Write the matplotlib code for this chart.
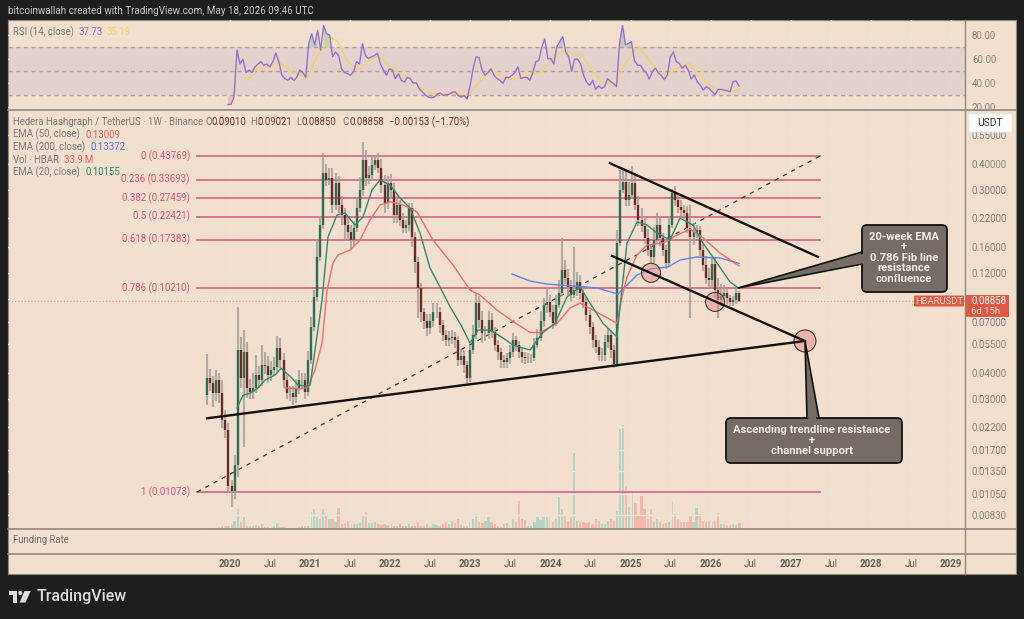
import numpy as np
import matplotlib
matplotlib.use("Agg")
import matplotlib.pyplot as plt
from matplotlib.patches import Rectangle, FancyBboxPatch, Polygon, Circle

plt.rcParams['font.family'] = ['Roboto', 'DejaVu Sans']

# -----------------------------------
# Data
# -----------------------------------

closes = [
    .0377, .0356, .0320, .0369, .0320, .0237, .0212, .0115, .0108, .0144,
    .0514, .0377, .0503, .0338, .0324, .0338, .0390, .0369, .0435, .0430,
    .0390, .0412, .0426, .0525, .0460, .0369, .0320, .0320, .0306, .0338,
    .0369, .0369, .0324, .0460, .0664, .0924, .1437, .2043, .3629, .3358,
    .3430, .2548, .3250, .2548, .2282, .2043, .1893, .1731, .1980, .2464,
    .3007, .4188, .3430, .3549, .3963, .4188, .3840, .3178, .2600, .3250,
    .3007, .2282, .2548, .2159, .1980, .2043, .2464, .1790, .1360, .1020,
    .0782, .0705, .0653, .0705, .0782, .0782, .0677, .0606, .0574, .0587,
    .0594, .0574, .0460, .0481, .0435, .0377, .0514, .0606, .0863, .0716,
    .0618, .0618, .0716, .0624, .0543, .0503, .0460, .0450, .0470, .0503,
    .0574, .0543, .0503, .0475, .0470, .0470, .0470, .0543, .0587, .0705,
    .0845, .0874, .0782, .0690, .0845, .0963, .1243, .1138, .1030, .0943,
    .0997, .1090, .0963, .0874, .0756, .0664, .0574, .0530, .0486, .0486,
    .0562, .0606, .0514, .0440, .1674, .3007, .3287, .2693, .2846, .3250,
    .2548, .2159, .2020, .1770, .1550, .1436, .1731, .2043, .1770, .1550,
    .1343, .2043, .2910, .2693, .2495, .2411, .2333, .1980, .1790, .1893,
    .1933, .1550, .1314, .1138, .1113, .1328, .0997, .0893, .0933, .0963,
    .0912, .0874, .0893, .0963, .08858,
]
first_open = .0312

# wick length above / below the candle body, in percent
wick_up = [
    30, 10, 8, 12, 8, 15, 12, 8, 6, 12,
    60, 15, 27, 12, 10, 18, 25, 10, 25, 15,
    12, 10, 12, 14, 12, 8, 6, 8, 8, 10,
    12, 8, 8, 10, 12, 8, 20, 10, 25, 10,
    12, 12, 12, 8, 10, 8, 10, 8, 8, 10,
    15, 22, 12, 10, 10, 4, 8, 10, 12, 8,
    10, 8, 10, 6, 8, 6, 6, 6, 6, 6,
    6, 5, 8, 8, 10, 10, 6, 6, 6, 8,
    8, 6, 5, 8, 6, 5, 6, 12, 12, 8,
    10, 8, 10, 8, 6, 6, 5, 6, 6, 8,
    8, 5, 5, 5, 6, 6, 5, 8, 10, 12,
    8, 16, 8, 8, 12, 15, 42, 12, 10, 8,
    60, 12, 8, 8, 6, 6, 6, 6, 8, 8,
    8, 8, 6, 6, 15, 25, 17, 14, 15, 20,
    12, 10, 14, 12, 10, 6, 15, 14, 8, 6,
    6, 10, 5, 8, 8, 8, 6, 8, 29, 10,
    6, 5, 8, 10, 12, 8, 8, 14, 14, 10,
    6, 4, 5, 8, 2,
]
wick_dn = [
    10, 8, 14, 8, 10, 8, 8, 8, 16, 8,
    12, 10, 53, 10, 8, 8, 5, 8, 6, 8,
    8, 6, 6, 5, 8, 8, 6, 8, 8, 6,
    6, 8, 8, 4, 4, 4, 4, 4, 4, 6,
    5, 8, 5, 8, 10, 15, 8, 10, 6, 4,
    4, 6, 8, 6, 6, 5, 6, 8, 10, 6,
    8, 8, 8, 6, 6, 6, 6, 10, 12, 28,
    10, 8, 8, 6, 6, 6, 8, 6, 6, 6,
    6, 8, 6, 5, 8, 6, 4, 4, 4, 8,
    10, 8, 6, 6, 6, 8, 8, 6, 6, 6,
    5, 6, 6, 6, 6, 5, 5, 3, 3, 3,
    6, 8, 5, 6, 3, 3, 3, 6, 8, 6,
    3, 6, 6, 6, 6, 8, 8, 6, 6, 6,
    6, 6, 8, 4, 3, 3, 3, 6, 6, 4,
    5, 6, 6, 6, 6, 6, 6, 4, 8, 6,
    6, 3, 3, 6, 6, 6, 6, 6, 59, 8,
    6, 6, 6, 6, 8, 8, 8, 18, 6, 6,
    6, 4, 4, 4, 1,
]

# volume in millions HBAR
volumes = [
    6, 6, 6, 6, 10, 15, 19, 19, 23, 47, 113,
    38, 66, 15, 15, 19, 23, 15, 26, 11, 11,
    11, 15, 34, 11, 9, 8, 6, 6, 8, 11,
    15, 15, 19, 94, 113, 66, 56, 113, 75, 56,
    56, 41, 117, 28, 34, 47, 26, 26, 26, 34,
    75, 94, 34, 34, 41, 26, 23, 30, 23, 26,
    19, 19, 26, 19, 19, 26, 15, 19, 38, 19,
    19, 26, 19, 26, 23, 19, 26, 41, 26, 47,
    34, 56, 23, 15, 15, 38, 56, 85, 41, 34,
    47, 66, 38, 26, 15, 11, 26, 34, 23, 56,
    38, 160, 56, 53, 19, 19, 41, 68, 53, 66,
    68, 66, 38, 56, 179, 113, 75, 47, 66, 429,
    47, 38, 38, 34, 38, 26, 56, 47, 26, 26,
    47, 56, 47, 103, 564, 587, 244, 122, 216, 147,
    75, 188, 113, 56, 113, 38, 56, 38, 28, 34,
    38, 160, 85, 56, 41, 38, 38, 75, 38, 117,
    85, 47, 38, 47, 38, 47, 90, 26, 26, 23,
    23, 26, 23, 33.9,
]

ema20_t = [
    2020.087, 2020.162, 2020.250, 2020.350, 2020.437, 2020.562, 2020.637, 2020.774, 2020.849, 2020.961,
    2021.0, 2021.061, 2021.149, 2021.223, 2021.336, 2021.436, 2021.561, 2021.660, 2021.773, 2021.873,
    2021.998, 2022.122, 2022.247, 2022.372, 2022.497, 2022.622, 2022.747, 2022.896, 2022.996, 2023.096,
    2023.246, 2023.408, 2023.533, 2023.745, 2023.908, 2024.057, 2024.207, 2024.370, 2024.494, 2024.657,
    2024.831, 2024.869, 2024.956, 2025.081, 2025.206, 2025.331, 2025.493, 2025.618, 2025.780, 2025.905,
    2026.080, 2026.242, 2026.355,
]
ema20_p = [
    .0271, .0312, .0319, .0338, .0369, .0390, .0420, .0377, .0349, .0345,
    .0349, .0514, .0893, .1790, .2282, .2333, .2043, .2233, .3007, .3358,
    .3178, .2752, .2464, .1870, .1270, .1030, .0830, .0664, .0555, .0641,
    .0641, .0587, .0543, .0514, .0624, .0690, .0924, .1030, .0863, .0690,
    .0594, .0830, .1674, .2112, .2043, .1870, .1731, .2205, .2043, .1674,
    .1343, .1090, .10155,
]

ema50_t = [
    2020.687, 2020.899, 2020.974, 2021.061, 2021.149, 2021.211, 2021.286, 2021.348, 2021.498, 2021.623,
    2021.748, 2021.873, 2021.998, 2022.160, 2022.335, 2022.534, 2022.784, 2022.996, 2023.121, 2023.333,
    2023.533, 2023.745, 2023.870, 2024.082, 2024.245, 2024.370, 2024.532, 2024.831, 2024.894, 2024.956,
    2025.081, 2025.206, 2025.406, 2025.581, 2025.743, 2025.893, 2026.117, 2026.355,
]
ema50_p = [
    .0338, .0335, .0342, .0412, .0555, .0997, .1343, .1467, .1550, .1731,
    .2159, .2548, .2640, .2548, .2360, .1731, .1314, .0997, .0943, .0799,
    .0705, .0624, .0624, .0690, .0817, .0863, .0799, .0690, .0924, .1150,
    .1467, .1638, .1674, .1830, .1950, .1790, .1500, .13009,
]

ema200_t = [2023.521, 2023.745, 2023.958, 2024.282, 2024.582, 2024.844, 2024.956,
            2025.081, 2025.243, 2025.468, 2025.618, 2025.830, 2026.117, 2026.355]
ema200_p = [.1190, .1100, .1065, .1042, .1020, .0953, .1053,
            .1176, .1257, .1285, .1388, .1436, .1420, .13372]

rsi_vals = [
    22.5, 22.5, 28.6, 67.5, 56, 60, 49, 51, 49, 53.6, 56, 58, 55, 56, 53.6, 58, 65, 58, 46.7, 44,
    42.5, 45, 42.5, 45, 51, 49, 45, 73, 81, 72, 84, 67.5, 88, 81, 80, 62, 66, 63, 52, 49,
    48, 46.7, 49.4, 58, 56, 73, 63, 60.5, 62, 63, 65, 56, 51, 46.7, 52, 51, 44, 48, 42.5, 41,
    45, 44, 40, 40.5, 35.5, 33, 30.5, 28.6, 28, 28.6, 31, 32, 30, 30.5, 31, 32.5, 33, 30, 28.6, 30,
    27, 38, 52, 62, 61.4, 51, 46.7, 49, 52, 46.7, 44, 42.5, 40, 45, 44.7,
    46.7, 49, 53.6, 44, 44.7, 45, 42.5, 49, 58, 59, 70, 77, 60.5, 60.5, 56, 70, 74.5, 78.6, 66, 62,
    50, 60, 60, 56, 46.5, 41, 38.3, 42.5, 35, 37.8, 35.8, 37.2, 44, 41.4, 40, 37.2, 73, 88, 72, 73,
    74.5, 59, 55, 55, 51, 48.6, 43.6, 49.8, 52.5, 48.6, 46.4, 43, 47, 62, 66, 58, 56.4, 52.5, 55, 51,
    43.6, 47, 41.4, 38.6, 34.4, 37.2, 35.8, 33, 30.8, 35, 35, 34.4, 33.9, 33, 41.4, 42, 37.7,
]

rsi_ma_t = [
    2020.225, 2020.337, 2020.462, 2020.624, 2020.787, 2020.961, 2021.086, 2021.186, 2021.248, 2021.348,
    2021.461, 2021.598, 2021.748, 2021.848, 2022.035, 2022.222, 2022.459, 2022.584, 2022.747, 2022.971,
    2023.096, 2023.271, 2023.408, 2023.521, 2023.733, 2023.895, 2024.02, 2024.17, 2024.295, 2024.395,
    2024.52, 2024.644, 2024.807, 2024.931, 2025.106, 2025.231, 2025.356, 2025.456, 2025.556, 2025.731,
    2025.893, 2026.055, 2026.267, 2026.367,
]
rsi_ma_v = [
    43, 52, 53.6, 57, 49.4, 45, 62, 71.6, 78.6, 74.4,
    59, 50.8, 59, 63, 52, 44, 33, 30.8, 31.4, 30.5,
    40, 51, 44.7, 43, 46.7, 49.4, 60.5, 67.5, 63, 64,
    51, 41, 38.3, 56.4, 70.8, 59, 49, 46.7, 52, 56.4,
    45, 35.5, 33.6, 35.19,
]

fib_ratios = ["0", "0.236", "0.382", "0.5", "0.618", "0.786", "1"]
fib_prices = [.43769, .33693, .27459, .22421, .17383, .10210, .01073]
fib_t = [2019.588, 2027.366]

trend_up_t = [2019.713, 2027.178]
trend_up_p = [.0242, .0568]
chan_top_t = [2024.744, 2027.341]
chan_top_p = [.4040, .1437]
chan_low_t = [2024.769, 2027.178]
chan_low_p = [.1452, .0568]

marker_t = [2025.256, 2026.055, 2027.178]
marker_p = [.1205, .0874, .0568]
marker_d = [13.7, 13.7, 15.8]

price_ticks = [.55, .40, .30, .22, .16, .12, .09, .07, .055, .04, .03, .022, .017, .0135, .0105, .0083]
rsi_ticks = [80, 60, 40, 20]
year_ticks = [2020, 2021, 2022, 2023, 2024, 2025, 2026, 2027, 2028, 2029]
jul_ticks = [2020.5, 2021.5, 2022.5, 2023.5, 2024.5, 2025.5, 2026.5, 2027.5, 2028.5]

last_price = closes[-1]

# -----------------------------------
# Colours and layout
# -----------------------------------

W, H = 1024, 619
DARK = "#1e1e1e"
PANEL = "#f2dfce"
GRID = "#ede3da"
AXIS = "#8e8882"
TICK = "#8a837d"
FIB = "#d9557f"
XLIM = (2017.228, 2029.176)


def box(x0, y0, x1, y1):
    return [x0 / W, 1 - y1 / H, (x1 - x0) / W, (y1 - y0) / H]


fig = plt.figure(figsize=(W / 100, H / 100), dpi=100, facecolor=DARK)

bg = fig.add_axes(box(8, 20, 1016, 574), zorder=0)
bg.set_facecolor(PANEL)
bg.set_xticks([])
bg.set_yticks([])
for s in bg.spines.values():
    s.set_color(AXIS)
    s.set_linewidth(0.8)


def dress(ax):
    ax.patch.set_alpha(0)
    ax.set_xlim(*XLIM)
    ax.set_xticks(year_ticks + jul_ticks)
    ax.tick_params(axis="x", length=0, labelbottom=False)
    ax.grid(True, color=GRID, lw=1.0)
    ax.set_axisbelow(True)
    for s in ["top", "left", "bottom"]:
        ax.spines[s].set_visible(False)
    ax.spines["right"].set_color(AXIS)
    ax.spines["right"].set_linewidth(1.0)


# -----------------------------------
# RSI panel
# -----------------------------------

rsi_ax = fig.add_axes(box(8, 20, 965, 110), zorder=1)
dress(rsi_ax)
rsi_ax.set_ylim(17.9, 92.5)
rsi_ax.yaxis.tick_right()
rsi_ax.set_yticks(rsi_ticks, [f"{v:.2f}" for v in rsi_ticks])
rsi_ax.tick_params(axis="y", length=0, labelsize=7, labelcolor=TICK, pad=5)
rsi_ax.axhspan(30, 70, color="#b9a0c8", alpha=0.22, lw=0)
for lvl in [70, 50, 30]:
    rsi_ax.axhline(lvl, color="#a8a29c", lw=1.0, ls=(0, (3, 2.5)))

rsi_t = np.linspace(2019.975, 2026.355, len(rsi_vals))
rsi_arr = np.array(rsi_vals)
rsi_ax.fill_between(rsi_t, 70, rsi_arr, where=rsi_arr > 70, color="#9fc9a8", alpha=0.6, lw=0)
rsi_ax.fill_between(rsi_t, 30, rsi_arr, where=rsi_arr < 30, color="#f0a8a8", alpha=0.6, lw=0)
rsi_ax.plot(rsi_ma_t, rsi_ma_v, color="#f4d35e", lw=1.0)
rsi_ax.plot(rsi_t, rsi_vals, color="#9270cf", lw=1.0)

# -----------------------------------
# Volume under the candles
# -----------------------------------

t = 2019.713 + np.arange(len(closes)) * 0.0382
opens = np.array([first_open] + closes[:-1])
cl = np.array(closes)
up = cl >= opens

vol_ax = fig.add_axes(box(8, 110, 965, 529), zorder=1)
vol_ax.patch.set_alpha(0)
vol_ax.set_xlim(*XLIM)
vol_ax.set_ylim(0, 2367)
vol_ax.axis("off")
vol_ax.bar(t, volumes, width=0.028, color=np.where(up, "#b5d3c3", "#f4b9aa"), lw=0)

# -----------------------------------
# Price panel
# -----------------------------------

ax = fig.add_axes(box(8, 110, 965, 529), zorder=2)
dress(ax)
ax.set_yscale("log")
ax.set_ylim(0.00713, 0.7270)
ax.yaxis.tick_right()
ax.set_yticks(price_ticks, [f"{v:.5f}" for v in price_ticks])
ax.minorticks_off()
ax.tick_params(axis="y", length=0, labelsize=7, labelcolor=TICK, pad=5)

ax.axhline(last_price, color="#ee9a86", lw=0.9, ls=(0, (1, 1.6)))

for ratio, price in zip(fib_ratios, fib_prices):
    ax.plot(fib_t, [price, price], color=FIB, lw=1.3, alpha=0.85)
    ax.text(fib_t[0] - 0.09, price, f"{ratio} ({price:.5f})", color=FIB, fontsize=6.9,
            ha="right", va="center")
ax.plot(fib_t, [fib_prices[-1], fib_prices[0]], color="#3a3a3a", lw=0.9, ls=(0, (3.5, 4)))

# candles
body_hi = np.maximum(opens, cl)
body_lo = np.minimum(opens, cl)
highs = body_hi * (1 + np.array(wick_up) / 100)
lows = body_lo * (1 - np.array(wick_dn) / 100)
ax.vlines(t, lows, highs, color="#a39c96", lw=1.5, alpha=0.8, zorder=3)
ax.vlines(t[up], opens[up], cl[up], color="#2f6d52", lw=1.7, zorder=4)
ax.vlines(t[~up], cl[~up], opens[~up], color="#6b2a28", lw=1.7, zorder=4)

# moving averages
ax.plot(ema200_t, ema200_p, color="#5b86ee", lw=1.0, zorder=5)
ax.plot(ema50_t, ema50_p, color="#f36b6b", lw=1.0, zorder=5)
ax.plot(ema20_t, ema20_p, color="#2f8a6f", lw=1.0, zorder=5)

# trendlines and marked spots
ax.scatter(marker_t, marker_p, s=np.array(marker_d) ** 2, facecolor="#e98d86", alpha=0.5, lw=0, zorder=6)
ax.scatter(marker_t, marker_p, s=np.array(marker_d) ** 2, facecolor="none", edgecolor="#4a3a36", lw=0.8, zorder=6)
ax.plot(trend_up_t, trend_up_p, color="#111111", lw=1.7, zorder=7)
ax.plot(chan_top_t, chan_top_p, color="#111111", lw=1.7, zorder=7)
ax.plot(chan_low_t, chan_low_p, color="#111111", lw=1.7, zorder=7)

# -----------------------------------
# Funding pane and time axis
# -----------------------------------

fund_ax = fig.add_axes(box(8, 529, 965, 554), zorder=1)
dress(fund_ax)
fund_ax.set_yticks([])
fund_ax.grid(False)

time_ax = fig.add_axes(box(8, 554, 965, 574), zorder=1)
dress(time_ax)
time_ax.grid(False)
time_ax.set_yticks([])
time_ax.set_ylim(0, 1)
for y in year_ticks:
    time_ax.text(y, 0.5, str(y), ha="center", va="center", fontsize=7, fontweight="bold", color="#5c5c5c")
for y in jul_ticks:
    time_ax.text(y, 0.5, "Jul", ha="center", va="center", fontsize=7, color="#6a6a6a")

# -----------------------------------
# Overlay: texts, tags, callouts, logo
# -----------------------------------

ov = fig.add_axes([0, 0, 1, 1], zorder=5)
ov.set_xlim(0, W)
ov.set_ylim(H, 0)
ov.axis("off")

for y in [110, 529, 554]:
    ov.plot([8, 1016], [y, y], color=AXIS, lw=1.2)


def label(x, y, s, color="#7b7b7b", size=6.9, **kw):
    ov.text(x, y, s, color=color, fontsize=size, va="center", **kw)


label(8, 11.5, "bitcoinwallah created with TradingView.com, May 18, 2026 09:46 UTC", "#c9c9c9", 7.1)

label(13, 32, "RSI (14, close)")
label(78.5, 32, "37.73", "#8f70d2")
label(106, 32, "35.19", "#f4d35e")

label(13, 122, "Hedera Hashgraph / TetherUS \u00b7 1W \u00b7 Binance")
OHLC = "#7a3a34"
label(205, 122, "O", "#7b7b7b")
label(212, 122, "0.09010", OHLC)
label(250, 122, "H", "#7b7b7b")
label(257, 122, "0.09021", OHLC)
label(296, 122, "L", "#7b7b7b")
label(302, 122, "0.08850", OHLC)
label(342, 122, "C", "#7b7b7b")
label(349, 122, "0.08858", OHLC)
label(389, 122, "\u22120.00153 (\u22121.70%)", OHLC)

label(13, 134.5, "EMA (50, close)")
label(85, 134.5, "0.13009", "#f25f5f")
label(13, 147, "EMA (200, close)")
label(90.5, 147, "0.13372", "#4f7fef")
label(13, 160, "Vol \u00b7 HBAR")
label(63.5, 160, "33.9\u2009M", "#f25f5f")
label(13, 172, "EMA (20, close)")
label(85, 172, "0.10155", "#2f8a6f")

label(13, 540, "Funding Rate", "#6e6e6e")

# price tags
ov.add_patch(FancyBboxPatch((969, 114), 43, 18, boxstyle="round,pad=0,rounding_size=2", fc="white", ec="#eeeeee", lw=0.6))
ov.text(990.5, 123, "USDT", ha="center", va="center", fontsize=7.4, color="#333333")

TAG = "#dd5a44"
ov.add_patch(FancyBboxPatch((914, 295.5), 50, 11, boxstyle="round,pad=0,rounding_size=1", fc=TAG, ec="none"))
ov.text(939, 301, "HBARUSDT", ha="center", va="center", fontsize=6.8, color="#f8d8ce")
ov.add_patch(FancyBboxPatch((966, 295), 43, 22, boxstyle="round,pad=0,rounding_size=1", fc=TAG, ec="none"))
ov.text(971, 301, f"{last_price:.5f}", ha="left", va="center", fontsize=7, color="white")
ov.text(971, 311, "6d 15h", ha="left", va="center", fontsize=6.8, color="#f8d8ce")

# callouts
CALL = "#766c66"


def callout(x0, y0, x1, y1, tri, lines, line_y):
    ov.add_patch(Polygon(tri, closed=True, fc=CALL, ec="#111111", lw=1.2, joinstyle="miter", zorder=3))
    ov.add_patch(FancyBboxPatch((x0, y0), x1 - x0, y1 - y0, boxstyle="round,pad=0,rounding_size=5",
                                fc=CALL, ec="#111111", lw=1.3, zorder=3))
    return lines, line_y


callout(862, 225, 947, 292, [(738, 288), (862, 252), (862, 264)], None, None)
ov.add_patch(Polygon([(800, 272), (866, 253), (866, 263)], closed=True, fc=CALL, ec="none", zorder=4))
for s, y in zip(["20-week EMA", "+", "0.786 Fib line", "resistance", "confluence"], [237, 247, 258, 268, 279]):
    ov.text(904, y, s, ha="center", va="center", fontsize=8.1, fontweight="bold", color="#f1ece8", zorder=5)

callout(726, 418, 902, 463, [(805, 341), (807, 418), (819, 418)], None, None)
ov.add_patch(Polygon([(809, 400), (808, 422), (818, 422)], closed=True, fc=CALL, ec="none", zorder=4))
for s, y in zip(["Ascending trendline resistance", "+", "channel support"], [430, 441, 451]):
    ov.text(812, y, s, ha="center", va="center", fontsize=8.1, fontweight="bold", color="#f1ece8", zorder=5)

# logo
LOGO = "#dedede"
ov.add_patch(Polygon([(8.7, 591), (17.3, 591), (17.3, 602.5), (13.3, 602.5), (13.3, 595), (8.7, 595)], closed=True, fc=LOGO, ec="none"))
ov.add_patch(Circle((20.3, 593), 2, fc=LOGO, ec="none"))
ov.add_patch(Polygon([(24.5, 591), (30.7, 591), (25.5, 602.5), (19.5, 602.5)], closed=True, fc=LOGO, ec="none"))
ov.text(37, 596.5, "TradingView", ha="left", va="center", fontsize=11.5, fontweight="medium", color=LOGO)

fig.savefig("out.png", dpi=100, facecolor=DARK)
